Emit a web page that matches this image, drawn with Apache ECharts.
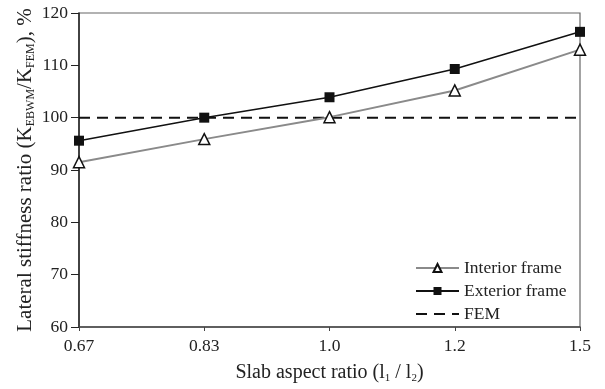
<!DOCTYPE html>
<html><head><meta charset="utf-8">
<script src="https://cdn.jsdelivr.net/npm/echarts@6/dist/echarts.min.js"></script>
<style>html,body{margin:0;padding:0;background:#fff}#c{width:605px;height:389px}</style>
</head><body><div id="c"></div>
<script>
const categories = ['0.67', '0.83', '1.0', '1.2', '1.5'];
const interiorFrame = [91.5, 95.9, 100.1, 105.2, 113.0];
const exteriorFrame = [95.6, 100.0, 103.9, 109.3, 116.4];
const femValues = [100, 100, 100, 100, 100];
const yTicks = { min: 60, max: 120, interval: 10 };

const font = 'Liberation Serif';
const chart = echarts.init(document.getElementById('c'));
chart.setOption({
  animation: false,
  backgroundColor: '#fff',
  grid: { left: 79, right: 25, top: 13, bottom: 58, show: true, borderColor: '#666', borderWidth: 1.2 },
  xAxis: {
    type: 'category', data: categories, boundaryGap: false,
    axisLine: { lineStyle: { color: '#444', width: 1.5 } },
    axisTick: { inside: false, length: 4, lineStyle: { color: '#444' } },
    axisLabel: { fontFamily: font, fontSize: 17.5, color: '#222', margin: 10 },
    splitLine: { show: false },
    name: '{m|Slab aspect ratio (l}{s|1}{m| / l}{s|2}{m|)}',
    nameLocation: 'middle', nameGap: 35,
    nameTextStyle: {
      rich: {
        m: { fontFamily: font, fontSize: 20, color: '#222', lineHeight: 22, verticalAlign: 'middle' },
        s: { fontFamily: font, fontSize: 11, color: '#222', lineHeight: 11, verticalAlign: 'bottom' }
      }
    }
  },
  yAxis: {
    type: 'value', min: yTicks.min, max: yTicks.max, interval: yTicks.interval,
    axisLine: { show: true, lineStyle: { color: '#222', width: 1.5 } },
    axisTick: { show: true, length: 8, lineStyle: { color: '#222' } },
    axisLabel: { fontFamily: font, fontSize: 17.5, color: '#222', margin: 11 },
    splitLine: { show: false },
    name: '{m|Lateral stiffness ratio (K}{s|EBWM}{m|/K}{s|FEM}{m|), %}',
    nameLocation: 'middle', nameGap: 42, nameRotate: 90, nameMoveOverlap: false,
    nameTextStyle: {
      rich: {
        m: { fontFamily: font, fontSize: 21, color: '#222', lineHeight: 24, verticalAlign: 'middle' },
        s: { fontFamily: font, fontSize: 12, color: '#222', lineHeight: 11, verticalAlign: 'bottom' }
      }
    }
  },
  legend: {
    orient: 'vertical', left: 415, top: 259, padding: 0, itemWidth: 43, itemHeight: 10, itemGap: 5,
    textStyle: { fontFamily: font, fontSize: 17.5, color: '#222' },
    data: ['Interior frame', 'Exterior frame', { name: 'FEM', itemStyle: { opacity: 0 } }]
  },
  series: [
    {
      name: 'Interior frame', type: 'line', data: interiorFrame,
      symbol: 'triangle', symbolSize: 11,
      lineStyle: { color: '#8a8a8a', width: 2 },
      itemStyle: { color: '#fff', borderColor: '#111', borderWidth: 1.5 },
      z: 3
    },
    {
      name: 'Exterior frame', type: 'line', data: exteriorFrame,
      symbol: 'rect', symbolSize: 10,
      lineStyle: { color: '#111', width: 1.5 },
      itemStyle: { color: '#111' },
      z: 4
    },
    {
      name: 'FEM', type: 'line', data: femValues, symbol: 'none',
      lineStyle: { color: '#111', width: 2, type: [11, 7] },
      itemStyle: { color: '#111' },
      z: 2
    }
  ]
});
</script></body></html>
